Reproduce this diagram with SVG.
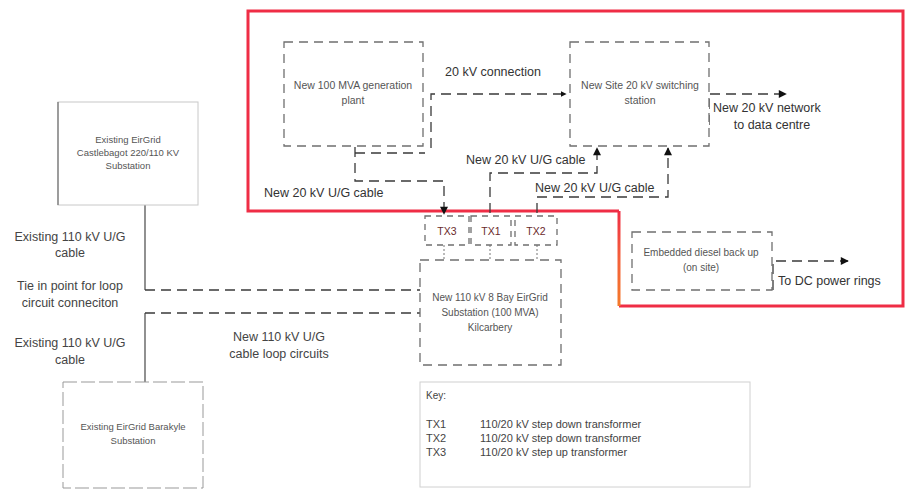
<svg xmlns="http://www.w3.org/2000/svg" width="905" height="497" viewBox="0 0 905 497">
<defs>
  <marker id="arr" viewBox="0 0 10 10" refX="9" refY="5" markerWidth="6" markerHeight="6" orient="auto" markerUnits="userSpaceOnUse">
    <path d="M0,0 L10,5 L0,10 Z" fill="#111"/>
  </marker>
  <marker id="arrBig" viewBox="0 0 10 10" refX="9" refY="5" markerWidth="9" markerHeight="8" orient="auto" markerUnits="userSpaceOnUse">
    <path d="M0,0 L10,5 L0,10 Z" fill="#111"/>
  </marker>
  <linearGradient id="og" x1="619" y1="211" x2="619" y2="306" gradientUnits="userSpaceOnUse">
    <stop offset="0" stop-color="#ef2d45"/>
    <stop offset="0.5" stop-color="#f4603a"/>
    <stop offset="1" stop-color="#f47a2a"/>
  </linearGradient>
  <style>
    text { font-family: "Liberation Sans", Arial, sans-serif; }
    .box { fill: #fff; stroke: #6f6f6f; stroke-width: 1.3; stroke-dasharray: 9 6; }
    .sbox { fill: #fff; stroke: #c8c8c8; stroke-width: 1; }
    .sedge { stroke: #777; stroke-width: 1.3; fill: none; }
    .dash { fill: none; stroke: #3a3a3a; stroke-width: 1.3; stroke-dasharray: 10 6; }
    .dot { fill: none; stroke: #777; stroke-width: 1; stroke-dasharray: 2 2; }
    .solid { fill: none; stroke: #555; stroke-width: 1.3; }
    .bt { font-size: 10px; fill: #555; text-anchor: middle; }
    .lbl { font-size: 12.5px; fill: #333; }
    .lblc { font-size: 12.5px; fill: #444; text-anchor: middle; }
    .tx { font-size: 10.5px; fill: #6b2b2b; text-anchor: middle; }
    .key { font-size: 11px; fill: #444; }
  </style>
</defs>
<rect width="905" height="497" fill="#fff"/>

<!-- project boundary -->
<g id="boundary">
  <path d="M619,211 H248 V11 H903 V306 H619" fill="none" stroke="#ef2d45" stroke-width="3"/>
  <path d="M619,211 V306" fill="none" stroke="url(#og)" stroke-width="3"/>
</g>

<g id="connectors">
  <!-- 20 kV connection -->
  <path class="dash" d="M431,148 V94 H566" marker-end="url(#arr)"/>
  <path class="dash" d="M355,153 H425"/>
  <!-- gen plant to TX3 -->
  <path class="dash" d="M355,147 V181 H444 V214" marker-end="url(#arrBig)"/>
  <!-- TX1 to switching station -->
  <path class="dash" d="M490,213 V173 H597 V148" marker-end="url(#arrBig)"/>
  <!-- TX2 to switching station -->
  <path class="dash" d="M537,213 V197 H668 V148" marker-end="url(#arrBig)"/>
  <!-- network to data centre -->
  <path class="dash" d="M709,125 V94 H786" marker-end="url(#arrBig)"/>
  <!-- diesel to DC rings -->
  <path class="dash" d="M773,290 V261 H848" marker-end="url(#arrBig)"/>
  <!-- TX to substation -->
  <path class="dot" d="M444,245 V260"/>
  <path class="dot" d="M490,245 V260"/>
  <path class="dot" d="M537,245 V260"/>
  <!-- existing cables -->
  <path class="solid" d="M145,205 V290"/>
  <path class="solid" d="M145,313 V382"/>
  <!-- loop circuits -->
  <path class="dash" d="M145,290 H420"/>
  <path class="dash" d="M145,313 H420"/>
</g>

<g id="gen-plant">
  <rect class="box" x="284" y="42" width="139" height="104"/>
  <text class="bt" x="353" y="89" style="font-size:10.5px">New 100 MVA generation</text>
  <text class="bt" x="353" y="104" style="font-size:10.5px">plant</text>
</g>

<g id="switching-station">
  <rect class="box" x="570" y="42" width="139" height="104"/>
  <text class="bt" x="640" y="89" style="font-size:10.5px">New Site 20 kV switching</text>
  <text class="bt" x="640" y="104" style="font-size:10.5px">station</text>
</g>

<g id="tx3">
  <rect class="box" x="425" y="216" width="44" height="29" style="stroke-dasharray:6 5"/>
  <text class="tx" x="447" y="235">TX3</text>
</g>
<g id="tx1">
  <rect class="box" x="471" y="216" width="40" height="29" style="stroke-dasharray:6 5"/>
  <text class="tx" x="491" y="235">TX1</text>
</g>
<g id="tx2">
  <rect class="box" x="515" y="216" width="42" height="29" style="stroke-dasharray:6 5"/>
  <text class="tx" x="536" y="235">TX2</text>
</g>

<g id="kilcarbery">
  <rect class="box" x="420" y="260" width="141" height="105"/>
  <text class="bt" x="490" y="301">New 110 kV 8 Bay EirGrid</text>
  <text class="bt" x="490" y="316">Substation (100 MVA)</text>
  <text class="bt" x="490" y="331">Kilcarbery</text>
</g>

<g id="castlebagot">
  <rect class="sbox" x="58" y="102" width="140" height="103"/>
  <path class="sedge" d="M58,102 V205"/>
  <text class="bt" x="128" y="143" style="font-size:9.5px">Existing EirGrid</text>
  <text class="bt" x="128" y="156" style="font-size:9.5px">Castlebagot 220/110 KV</text>
  <text class="bt" x="128" y="169" style="font-size:9.5px">Substation</text>
</g>

<g id="barakyle">
  <rect class="box" x="63" y="382" width="140" height="106" style="stroke:#999;stroke-width:1;stroke-dasharray:14 4"/>
  <text class="bt" x="133" y="430" style="font-size:9.5px">Existing EirGrid Barakyle</text>
  <text class="bt" x="133" y="444" style="font-size:9.5px">Substation</text>
</g>

<g id="diesel">
  <rect class="box" x="632" y="232" width="140" height="58"/>
  <text class="bt" x="701" y="256">Embedded diesel back up</text>
  <text class="bt" x="701" y="271">(on site)</text>
</g>

<g id="key">
  <rect class="sbox" x="420" y="382" width="330" height="105" style="stroke:#d0d0d0"/>
  <text class="key" x="426" y="399" style="font-size:10px">Key:</text>
  <text class="key" x="426" y="428">TX1</text>
  <text class="key" x="480" y="428">110/20 kV step down transformer</text>
  <text class="key" x="426" y="442">TX2</text>
  <text class="key" x="480" y="442">110/20 kV step down transformer</text>
  <text class="key" x="426" y="456">TX3</text>
  <text class="key" x="480" y="456">110/20 kV step up transformer</text>
</g>

<g id="labels">
  <text class="lbl" x="445" y="76">20 kV connection</text>
  <text class="lbl" x="713" y="112">New 20 kV network</text>
  <text class="lbl" x="772" y="129" text-anchor="middle">to data centre</text>
  <text class="lbl" x="466" y="164">New 20 kV U/G cable</text>
  <text class="lbl" x="535" y="192">New 20 kV U/G cable</text>
  <text class="lbl" x="264" y="197">New 20 kV U/G cable</text>
  <text class="lbl" x="778" y="285">To DC power rings</text>
  <text class="lblc" x="70" y="241">Existing 110 kV U/G</text>
  <text class="lblc" x="70" y="257">cable</text>
  <text class="lblc" x="70" y="290">Tie in point for loop</text>
  <text class="lblc" x="70" y="307">circuit conneciton</text>
  <text class="lblc" x="70" y="347">Existing 110 kV U/G</text>
  <text class="lblc" x="70" y="364">cable</text>
  <text class="lblc" x="279" y="341">New 110 kV U/G</text>
  <text class="lblc" x="279" y="358">cable loop circuits</text>
</g>
</svg>
